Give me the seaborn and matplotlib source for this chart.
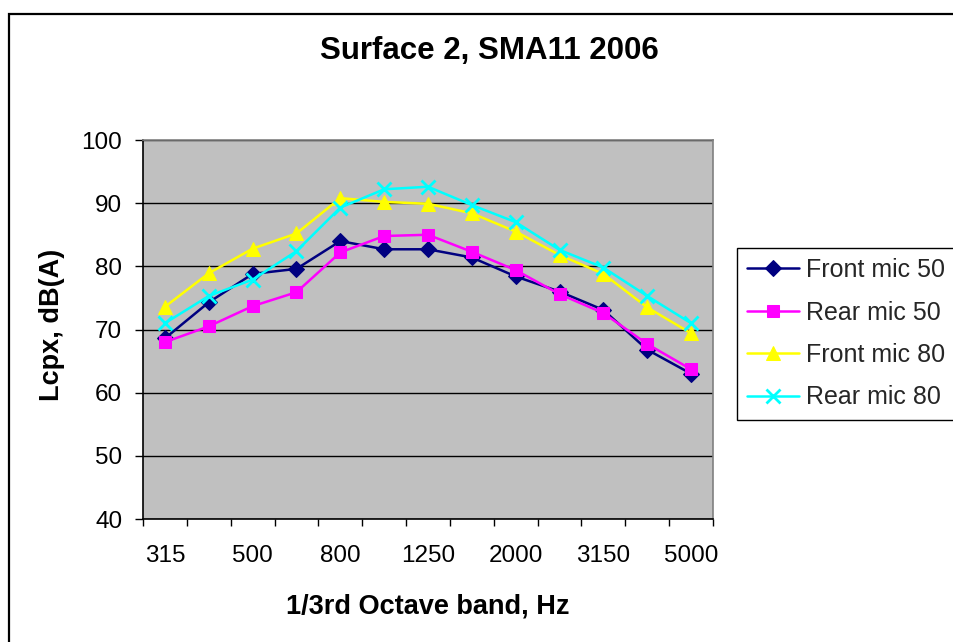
import matplotlib
matplotlib.use("Agg")
import matplotlib.pyplot as plt
from matplotlib.patches import Rectangle
import seaborn as sns
import pandas as pd

# 1/3rd octave band centre frequencies (Hz)
bands = ["315", "400", "500", "630", "800", "1000", "1250",
         "1600", "2000", "2500", "3150", "4000", "5000"]

# Lcpx levels, dB(A)
front_mic_50 = [68.6, 74.3, 78.8, 79.6, 84.0, 82.7, 82.7, 81.4, 78.4, 76.0, 73.1, 66.8, 63.0]
rear_mic_50 = [68.0, 70.5, 73.7, 75.9, 82.2, 84.8, 85.0, 82.3, 79.4, 75.6, 72.6, 67.7, 63.7]
front_mic_80 = [73.6, 78.9, 82.8, 85.2, 90.8, 90.2, 89.9, 88.4, 85.5, 81.8, 78.8, 73.5, 69.4]
rear_mic_80 = [71.0, 75.3, 77.9, 82.4, 89.3, 92.2, 92.6, 89.7, 87.0, 82.6, 79.8, 75.3, 71.0]

series_names = ["Front mic 50", "Rear mic 50", "Front mic 80", "Rear mic 80"]
series_values = [front_mic_50, rear_mic_50, front_mic_80, rear_mic_80]

y_ticks = [40, 50, 60, 70, 80, 90, 100]
x_label_bands = ["315", "500", "800", "1250", "2000", "3150", "5000"]

sns.set_theme(style="white")
plt.rcParams["font.family"] = ["Liberation Sans", "DejaVu Sans"]

W, H = 954, 642
fig = plt.figure(figsize=(W / 100, H / 100), dpi=100)
fig.patch.set_facecolor("white")

ax = fig.add_axes([143 / W, 1 - 519 / H, (713 - 143) / W, (519 - 140) / H])
ax.set_facecolor("#C0C0C0")

styles = [
    dict(color="#000080", marker="D", markersize=8, markeredgecolor="#000080"),
    dict(color="#FF00FF", marker="s", markersize=9, markeredgecolor="#FF00FF"),
    dict(color="#FFFF00", marker="^", markersize=10, markeredgecolor="#FFFF00"),
    dict(color="#00FFFF", marker="x", markersize=10, markeredgewidth=2, markeredgecolor="#00FFFF"),
]

idx = list(range(len(bands)))
for name, vals, st in zip(series_names, series_values, styles):
    df = pd.DataFrame({"band": idx, "level": vals})
    sns.lineplot(data=df, x="band", y="level", ax=ax, label=name,
                 linewidth=1.8, zorder=3, **st)

ax.set_xlim(-0.5, len(bands) - 0.5)
ax.set_ylim(40, 100)

# horizontal gridlines
ax.set_yticks(y_ticks)
ax.yaxis.grid(True, color="black", linewidth=1)
ax.xaxis.grid(False)
ax.set_axisbelow(True)

# category boundaries as tick marks, labels on every other band
ax.set_xticks([i - 0.5 for i in range(len(bands) + 1)])
ax.set_xticklabels([])
ax.set_xticks([bands.index(b) for b in x_label_bands], minor=True)
ax.set_xticklabels(x_label_bands, minor=True)
ax.tick_params(axis="x", which="major", direction="out", length=5, width=1, color="black", bottom=True)
ax.tick_params(axis="x", which="minor", length=0, pad=19, labelsize=17.5, labelcolor="black")
ax.tick_params(axis="y", direction="out", length=6, width=1, color="black", left=True,
               pad=9, labelsize=17.5, labelcolor="black")

for side in ["top", "right"]:
    ax.spines[side].set_color("#808080")
    ax.spines[side].set_linewidth(1.2)
for side in ["left", "bottom"]:
    ax.spines[side].set_color("black")
    ax.spines[side].set_linewidth(1.2)

ax.set_xlabel("")
ax.set_ylabel("")

fig.text(52 / W, 1 - 325 / H, "Lcpx, dB(A)", rotation=90, ha="center", va="center",
         fontsize=19.5, fontweight="bold", color="black")
fig.text(428 / W, 1 - 607 / H, "1/3rd Octave band, Hz", ha="center", va="center",
         fontsize=19.5, fontweight="bold", color="black")
fig.text(489 / W, 1 - 51 / H, "Surface 2, SMA11 2006", ha="center", va="center",
         fontsize=22.5, fontweight="bold", color="black")

leg = ax.legend(loc="upper left", bbox_to_anchor=(737 / W, 1 - 248 / H),
                bbox_transform=fig.transFigure, fontsize=18, frameon=True,
                fancybox=False, shadow=False, borderaxespad=0, borderpad=0.4,
                handlelength=2.1, handletextpad=0.25, labelspacing=0.74)
leg.get_frame().set_edgecolor("black")
leg.get_frame().set_linewidth(1)
leg.get_frame().set_facecolor("white")
leg.get_frame().set_alpha(1)

# outer chart frame
fig.patches.append(Rectangle((9 / W, -0.1), 1.2, 1.1 - 14 / H, transform=fig.transFigure,
                             fill=False, edgecolor="black", linewidth=1.6, figure=fig))

fig.savefig("out.png", dpi=100)
